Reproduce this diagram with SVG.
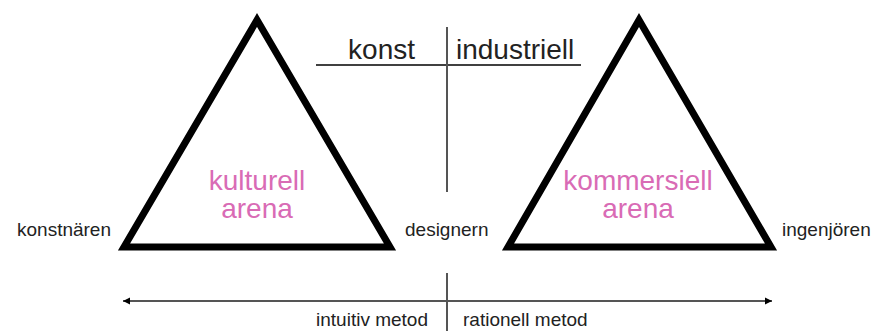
<svg xmlns="http://www.w3.org/2000/svg" width="872" height="331" viewBox="0 0 872 331">
<defs>
<style>
.tri{fill:none;stroke:#000;stroke-width:7;stroke-linejoin:miter;stroke-miterlimit:10}
.lbl{font-family:"Liberation Sans",Arial,sans-serif;font-size:19px;fill:#222}
.big{font-family:"Liberation Sans",Arial,sans-serif;font-size:28px;fill:#222}
.pink{font-family:"Liberation Sans",Arial,sans-serif;font-size:28px;fill:#d96bb5;text-anchor:middle}
.ln{stroke:#555;stroke-width:2;fill:none}
</style>
<marker id="ah" viewBox="0 0 10 10" refX="10" refY="5" markerWidth="7" markerHeight="10" markerUnits="userSpaceOnUse" orient="auto-start-reverse">
<path d="M0,0 L10,5 L0,10 z" fill="#000"/>
</marker>
</defs>
<rect width="872" height="331" fill="#fff"/>
<g id="connectors">
<line x1="316" y1="65" x2="581" y2="65" stroke="#000" stroke-width="1.5"/>
<line class="ln" x1="447" y1="27" x2="447" y2="192"/>
<line class="ln" x1="447" y1="273" x2="447" y2="331"/>
<line class="ln" x1="123" y1="301" x2="772" y2="301" marker-start="url(#ah)" marker-end="url(#ah)"/>
</g>
<g id="kulturell">
<polygon class="tri" points="124,247 390,247 257,20"/>
<text class="pink" x="257" y="190">kulturell</text>
<text class="pink" x="257" y="218">arena</text>
</g>
<g id="kommersiell">
<polygon class="tri" points="508,247 771,247 639,20"/>
<text class="pink" x="638" y="190">kommersiell</text>
<text class="pink" x="638" y="218">arena</text>
</g>
<g id="axis-top">
<text class="big" x="415" y="59" text-anchor="end">konst</text>
<text class="big" x="456" y="59">industriell</text>
</g>
<g id="roles">
<text class="lbl" x="17" y="236">konstnären</text>
<text class="lbl" x="405" y="236">designern</text>
<text class="lbl" x="782" y="236">ingenjören</text>
</g>
<g id="axis-bottom">
<text class="lbl" x="428" y="326" text-anchor="end">intuitiv metod</text>
<text class="lbl" x="463" y="326">rationell metod</text>
</g>
</svg>
